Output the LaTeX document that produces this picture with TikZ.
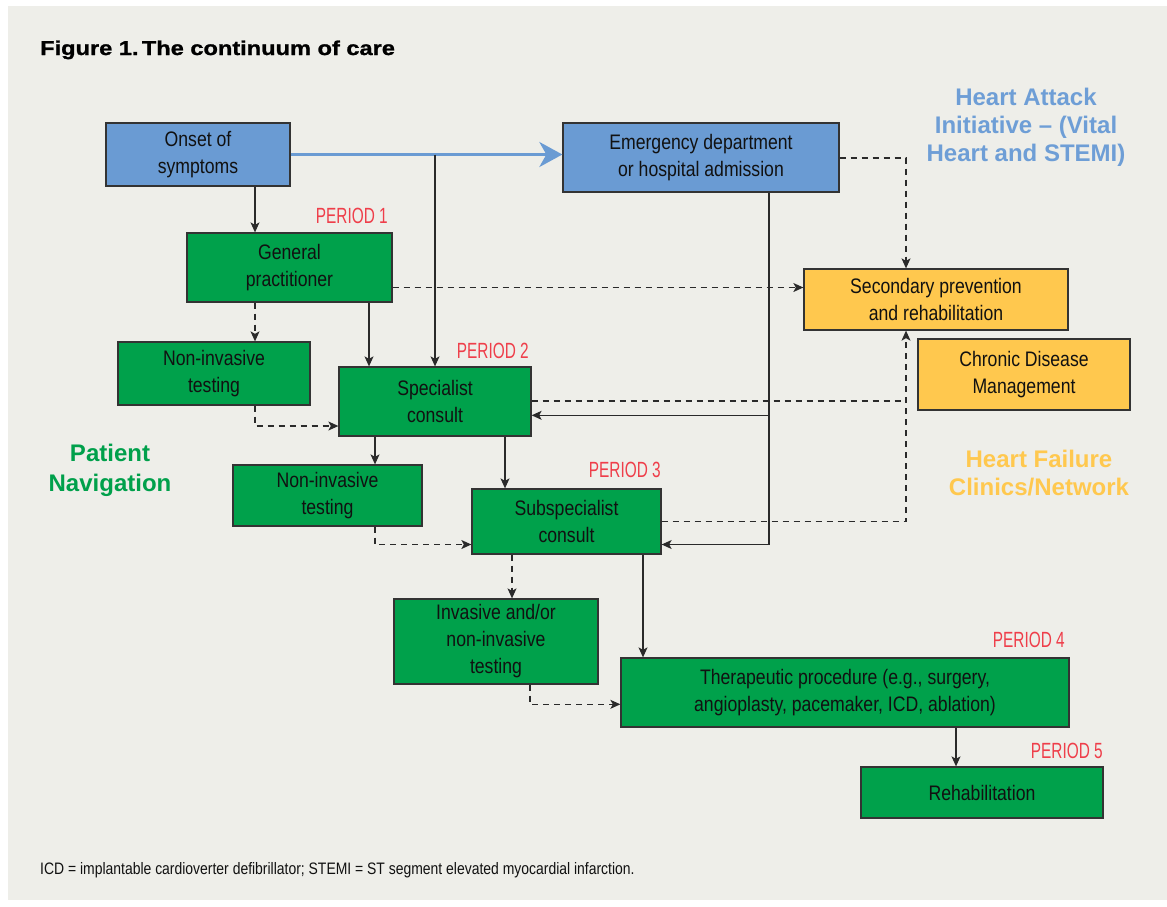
\documentclass[tikz,border=0pt]{standalone}
\usepackage{fontspec}
\setmainfont{Liberation Sans}[FakeStretch=0.84]
\newfontfamily\periodfont{Liberation Sans}[FakeStretch=0.7]
\newfontfamily\titlefont{Liberation Sans}[FakeStretch=1.18,FakeBold=1.2]
\newfontfamily\labfont{Liberation Sans}
\usetikzlibrary{arrows.meta}
\definecolor{bgc}{HTML}{EEEEE9}
\definecolor{bluebox}{HTML}{6A9BD3}
\definecolor{greenbox}{HTML}{00A14B}
\definecolor{yellowbox}{HTML}{FFC84E}
\definecolor{redtxt}{HTML}{EF3E4A}
\definecolor{bluetxt}{HTML}{6E9ED6}
\definecolor{greentxt}{HTML}{00A04B}
\definecolor{boxline}{HTML}{333333}
\definecolor{linec}{HTML}{2A2A2A}
\definecolor{txt}{HTML}{111111}
\begin{document}
\begin{tikzpicture}[x=1pt,y=-1pt,
  box/.style={draw=boxline, line width=1.3pt, inner sep=0pt, align=center,
    font=\fontsize{21}{27}\selectfont, text=txt},
  bbox/.style={box, fill=bluebox},
  gbox/.style={box, fill=greenbox},
  ybox/.style={box, fill=yellowbox},
  arr/.style={draw=linec, line width=1.1pt, -{Stealth[length=10pt,width=9pt,inset=2.5pt]}},
  plain/.style={draw=linec, line width=1.1pt},
  darr/.style={draw=linec, line width=1.1pt, dash pattern=on 6pt off 5pt, -{Stealth[length=10pt,width=9pt,inset=2.5pt]}},
  dplain/.style={draw=linec, line width=1.1pt, dash pattern=on 6pt off 5pt},
  bluearr/.style={draw=bluebox, line width=3pt, -{Stealth[length=23pt,width=25pt,inset=7pt]}},
  period/.style={anchor=base east, inner sep=0pt, text=redtxt, font=\periodfont\fontsize{22}{22}\selectfont},
  biglab/.style={anchor=base, inner sep=0pt, font=\labfont\bfseries\fontsize{24}{28}\selectfont}
]
\useasboundingbox (0,0) rectangle (1167,906);
\fill[white] (0,0) rectangle (1167,906);
\fill[bgc] (8,6) rectangle (1167,900);

% title
\node[anchor=base west, inner sep=0pt, font=\titlefont\bfseries\fontsize{20}{20}\selectfont] (title) at (40,55) {Figure 1.\,The continuum of care};

% boxes
\node[bbox, minimum width=184pt, minimum height=63pt] (onset) at (198,154.5) {Onset of\\symptoms};
\node[bbox, minimum width=276pt, minimum height=69pt] (emerg) at (701,157.5) {Emergency department\\or hospital admission};
\node[gbox, minimum width=205pt, minimum height=69pt] (gp) at (289.5,267.5) {General\\practitioner};
\node[ybox, minimum width=264pt, minimum height=61pt] (secp) at (936,299.5) {Secondary prevention\\and rehabilitation};
\node[ybox, minimum width=212pt, minimum height=71pt] (chronic) at (1024,374.5) {Chronic Disease\\Management};
\node[gbox, minimum width=192pt, minimum height=63pt] (nit1) at (214,373.5) {Non-invasive\\testing};
\node[gbox, minimum width=192pt, minimum height=69pt] (spec) at (435,401.5) {Specialist\\consult};
\node[gbox, minimum width=189pt, minimum height=61pt] (nit2) at (327.5,495.5) {Non-invasive\\testing};
\node[gbox, minimum width=189pt, minimum height=65pt] (subs) at (566.5,521.5) {Subspecialist\\consult};
\node[gbox, minimum width=204pt, minimum height=85pt] (inv) at (496,641.5) {Invasive and/or\\non-invasive\\testing};
\node[gbox, minimum width=448pt, minimum height=69pt] (ther) at (845,692.5) {Therapeutic procedure (e.g., surgery,\\angioplasty, pacemaker, ICD, ablation)};
\node[gbox, minimum width=242pt, minimum height=51pt] (rehab) at (982,792.5) {Rehabilitation};

% period labels
\node[period] (p1) at (388,223) {PERIOD 1};
\node[period] (p2) at (529,358) {PERIOD 2};
\node[period] (p3) at (661,477) {PERIOD 3};
\node[period] (p4) at (1065,647) {PERIOD 4};
\node[period] (p5) at (1103,758) {PERIOD 5};

% big labels
\node[biglab, text=bluetxt] (ha1) at (1026,105) {Heart Attack};
\node[biglab, text=bluetxt] (ha2) at (1026,133) {Initiative – (Vital};
\node[biglab, text=bluetxt] (ha3) at (1026,161) {Heart and STEMI)};
\node[biglab, text=yellowbox] (hf1) at (1039,467) {Heart Failure};
\node[biglab, text=yellowbox] (hf2) at (1039,495) {Clinics/Network};
\node[biglab, text=greentxt] (pn1) at (110,461) {Patient};
\node[biglab, text=greentxt] (pn2) at (110,491) {Navigation};

% footnote
\node[anchor=base west, inner sep=0pt, text=txt, font=\fontsize{16.6}{18}\selectfont] (foot) at (40,874) {ICD = implantable cardioverter defibrillator; STEMI = ST segment elevated myocardial infarction.};

% helper coordinates
\coordinate (c255) at (255,0);
\coordinate (c369) at (369,0);
\coordinate (c435) at (435,0);
\coordinate (c906) at (906,0);
\coordinate (c769) at (769,0);
\coordinate (c375) at (375,0);
\coordinate (c505) at (505,0);
\coordinate (c512) at (512,0);
\coordinate (c643) at (643,0);
\coordinate (c530) at (530,0);
\coordinate (c956) at (956,0);
\coordinate (r287) at (0,287.5);
\coordinate (r426) at (0,426);
\coordinate (r158) at (0,158);
\coordinate (r415) at (0,415.3);
\coordinate (r401) at (0,401);
\coordinate (r521) at (0,521.3);
\coordinate (r544) at (0,544.5);
\coordinate (r704) at (0,704.3);

% connectors
\draw[bluearr] (onset.east) -- (onset.east -| emerg.west);
\draw[arr] (onset.south -| c255) -- (gp.north -| c255);
\draw[arr] (onset.east -| c435) -- (spec.north -| c435);
\draw[arr] (gp.south -| c369) -- (spec.north -| c369);
\draw[darr] (gp.east |- r287) -- (secp.west |- r287);
\draw[darr] (gp.south -| c255) -- (nit1.north -| c255);
\draw[darr] (nit1.south -| c255) |- (spec.west |- r426);
\draw[darr] (emerg.east |- r158) -| (secp.north -| c906);
\draw[arr] (emerg.south -| c769) |- (subs.east |- r544);
\draw[arr] (c769 |- r415) -- (spec.east |- r415);
\draw[dplain] (spec.east |- r401) -- (c906 |- r401);
\draw[darr] (subs.east |- r521) -| (secp.south -| c906);
\draw[arr] (spec.south -| c375) -- (nit2.north -| c375);
\draw[arr] (spec.south -| c505) -- (subs.north -| c505);
\draw[darr] (nit2.south -| c375) |- (subs.west |- r544);
\draw[darr] (subs.south -| c512) -- (inv.north -| c512);
\draw[arr] (subs.south -| c643) -- (ther.north -| c643);
\draw[darr] (inv.south -| c530) |- (ther.west |- r704);
\draw[arr] (ther.south -| c956) -- (rehab.north -| c956);
\end{tikzpicture}
\end{document}
